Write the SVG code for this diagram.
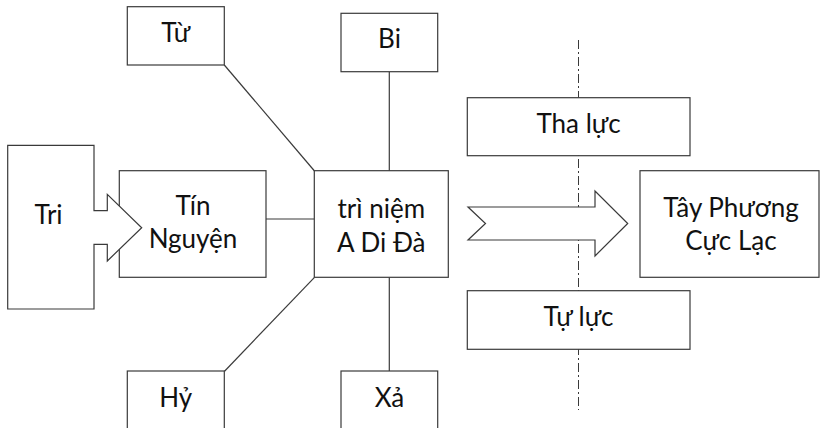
<svg xmlns="http://www.w3.org/2000/svg" width="822" height="428" viewBox="0 0 822 428">
<style>
.b{fill:#fff;stroke:#3a3a3a;stroke-width:1.2}
.c{fill:none;stroke:#3a3a3a;stroke-width:1.2}
.t{font-family:Lato,"Noto Sans","Liberation Sans",sans-serif;font-size:26px;fill:#111;text-anchor:middle}
</style>
<rect width="822" height="428" fill="#fff"/>
<g id="divider">
<line x1="578.5" y1="40" x2="578.5" y2="410" stroke="#3a3a3a" stroke-width="1" stroke-dasharray="9 3 2 3"/>
</g>
<g id="connectors">
<line class="c" x1="266" y1="219" x2="314.5" y2="219"/>
<line class="c" x1="224.3" y1="65" x2="314.5" y2="171"/>
<line class="c" x1="224.3" y1="371.5" x2="314.5" y2="277.3"/>
<line class="c" x1="389.3" y1="71.7" x2="389.3" y2="171"/>
<line class="c" x1="389.3" y1="277.3" x2="389.3" y2="371"/>
</g>
<g id="tu">
<rect class="b" x="127.3" y="6.7" width="97" height="58.3"/>
<text class="t" x="175.8" y="42">Từ</text>
</g>
<g id="bi">
<rect class="b" x="341" y="13.3" width="96.7" height="58.4"/>
<text class="t" x="389.5" y="48.3">Bi</text>
</g>
<g id="hy">
<rect class="b" x="127.3" y="371" width="97" height="70"/>
<text class="t" x="175.8" y="406.5">Hỷ</text>
</g>
<g id="xa">
<rect class="b" x="341" y="371" width="96.7" height="70"/>
<text class="t" x="389.5" y="406.5">Xả</text>
</g>
<g id="tin-nguyen">
<rect class="b" x="119.3" y="170.7" width="146.7" height="106.6"/>
<text class="t" x="193" y="215">Tín</text>
<text class="t" x="193" y="248.3">Nguyện</text>
</g>
<g id="tri">
<path class="b" d="M7.7,145.3 L94,145.3 L94,210.7 L107.3,210.7 L107.3,194.3 L141.7,227.7 L107.3,261 L107.3,244.3 L94,244.3 L94,309 L7.7,309 Z"/>
<text class="t" x="48.5" y="224.3">Tri</text>
</g>
<g id="tri-niem">
<rect class="b" x="314.3" y="170.7" width="134" height="106.6"/>
<text class="t" x="381.3" y="218">trì niệm</text>
<text class="t" x="381.3" y="251.5">A Di Đà</text>
</g>
<g id="big-arrow">
<path class="b" d="M468,207 L595,207 L595,191 L627.7,223.5 L595,256 L595,240 L468,240 L485.5,223.5 Z"/>
</g>
<g id="tha-luc">
<rect class="b" x="467.3" y="97.7" width="222.7" height="58"/>
<text class="t" x="578.5" y="132.7">Tha lực</text>
</g>
<g id="tu-luc">
<rect class="b" x="467.3" y="290.7" width="222.7" height="58.6"/>
<text class="t" x="578.5" y="326">Tự lực</text>
</g>
<g id="tay-phuong">
<rect class="b" x="640" y="170.7" width="179" height="106.6"/>
<text class="t" x="731" y="216.5">Tây Phương</text>
<text class="t" x="731" y="249.5">Cực Lạc</text>
</g>
</svg>
